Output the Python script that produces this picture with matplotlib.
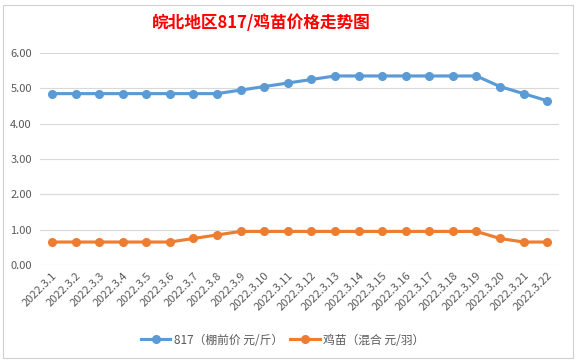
import matplotlib
matplotlib.use("Agg")
import matplotlib.pyplot as plt
from matplotlib.patches import Rectangle

plt.rcParams['font.family'] = ['Noto Sans CJK SC', 'DejaVu Sans']

dates = ["2022.3.%d" % d for d in range(1, 23)]
price_817 = [4.85, 4.85, 4.85, 4.85, 4.85, 4.85, 4.85, 4.85, 4.95, 5.05, 5.15,
             5.25, 5.35, 5.35, 5.35, 5.35, 5.35, 5.35, 5.35, 5.05, 4.85, 4.65]
price_chick = [0.65, 0.65, 0.65, 0.65, 0.65, 0.65, 0.75, 0.85, 0.95, 0.95, 0.95,
               0.95, 0.95, 0.95, 0.95, 0.95, 0.95, 0.95, 0.95, 0.75, 0.65, 0.65]
label_817 = "817（棚前价 元/斤）"
label_chick = "鸡苗（混合 元/羽）"
title = "皖北地区817/鸡苗价格走势图"

text_color = "#595959"
grid_color = "#D9D9D9"

fig = plt.figure(figsize=(5.77, 3.63), dpi=100)
fig.patch.set_facecolor("white")
# chart frame
fig.patches.append(Rectangle((0.005, 0.015), 0.988, 0.972, transform=fig.transFigure,
                             fill=False, edgecolor="#D0D0D0", linewidth=0.8))

ax = fig.add_axes([0.0697, 0.27, 0.899, 0.584])
x = list(range(len(dates)))
ax.plot(x, price_817, color="#5B9BD5", linewidth=2.25, marker="o", markersize=5.5,
        label=label_817, zorder=3)
ax.plot(x, price_chick, color="#ED7D31", linewidth=2.25, marker="o", markersize=5.5,
        label=label_chick, zorder=3)

ax.set_xlim(-0.5, len(dates) - 0.5)
ax.set_ylim(0, 6)
ax.set_yticks([0, 1, 2, 3, 4, 5, 6])
ax.set_yticklabels(["%.2f" % v for v in [0, 1, 2, 3, 4, 5, 6]], fontsize=8, color=text_color)
ax.set_xticks(x)
ax.set_xticklabels(dates, rotation=45, ha="right", va="top", rotation_mode="anchor",
                   fontsize=8, color=text_color)
ax.tick_params(axis="both", length=0, pad=4)
ax.tick_params(axis="y", pad=6)
ax.grid(axis="y", color=grid_color, linewidth=0.8)
for s in ax.spines.values():
    s.set_visible(False)

fig.text(0.453, 0.938, title, ha="center", va="center", color="red",
         fontsize=12, fontweight="bold")

fig.legend(loc="center", bbox_to_anchor=(0.49, 0.063), ncol=2, frameon=False,
           fontsize=8.5, labelcolor=text_color, handlelength=2.5, handletextpad=0.3,
           columnspacing=0.6)

fig.savefig("out.png", dpi=100)
